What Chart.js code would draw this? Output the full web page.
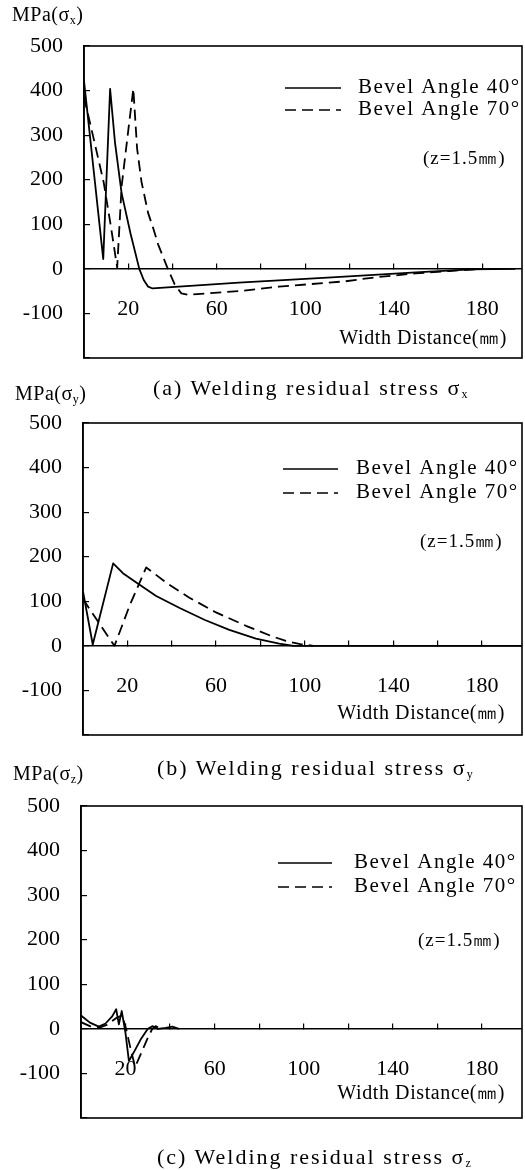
<!DOCTYPE html>
<html><head><meta charset="utf-8">
<script src="https://cdn.jsdelivr.net/npm/chart.js@4.4.1/dist/chart.umd.min.js"></script>
<style>
body{margin:0;width:525px;height:1170px;background:#fff;position:relative;overflow:hidden;font-family:"Liberation Serif","DejaVu Serif",serif;color:#000}
.cv{position:absolute;left:0;width:525px;height:380px}
.t{position:absolute;white-space:nowrap;line-height:1}
.cap{font-size:22px;letter-spacing:2px}
.unit{font-size:20px;letter-spacing:0.5px}
.z{font-size:19px;letter-spacing:1px}
.wd{font-size:20px;letter-spacing:0.6px}
sub{font-size:12px;vertical-align:-3px}
</style></head><body>
<div class="cv" style="top:0"><canvas id="ca" width="525" height="380"></canvas></div>
<div class="cv" style="top:377px"><canvas id="cb" width="525" height="380"></canvas></div>
<div class="cv" style="top:760px"><canvas id="cc" width="525" height="380"></canvas></div>

<div class="t unit" style="left:12px;top:4px">MPa(σ<sub>x</sub>)</div>
<div class="t z" style="left:423px;top:148px">(z=1.5㎜)</div>
<div class="t wd" style="right:18px;top:327px">Width Distance(㎜)</div>
<div class="t cap" style="left:153px;top:377px">(a) Welding residual stress σ<sub>x</sub></div>

<div class="t unit" style="left:15px;top:383px">MPa(σ<sub>y</sub>)</div>
<div class="t z" style="left:420px;top:531px">(z=1.5㎜)</div>
<div class="t wd" style="right:20px;top:702px">Width Distance(㎜)</div>
<div class="t cap" style="left:157px;top:757px">(b) Welding residual stress σ<sub>y</sub></div>

<div class="t unit" style="left:13px;top:763px">MPa(σ<sub>z</sub>)</div>
<div class="t z" style="left:418px;top:930px">(z=1.5㎜)</div>
<div class="t wd" style="right:20px;top:1082px">Width Distance(㎜)</div>
<div class="t cap" style="left:157px;top:1146px">(c) Welding residual stress σ<sub>z</sub></div>

<script>
// ---- tick labels & series names ----
const xTickLabels = [20, 60, 100, 140, 180];
const yTickLabels = [-100, 0, 100, 200, 300, 400, 500];
const seriesNames = ['Bevel Angle 40°', 'Bevel Angle 70°'];

// ---- (a) sigma x ----
const sxX40 = [0, 8.7, 11.8, 14, 17, 21, 25, 27, 29, 31, 70, 112, 150, 175, 195];
const sxY40 = [422, 22, 404, 284, 170, 80, 0, -25, -40, -44, -31, -19, -8, -1, 0];
const sxX70 = [0, 4, 8.9, 12, 15, 17, 20, 22.3, 24, 26, 29, 31.5, 33.5, 37.5, 41, 44, 47, 70, 88, 118, 130, 150, 165, 180];
const sxY70 = [385, 300, 194, 100, 3, 185, 310, 404, 270, 195, 125, 88, 55, 5, -35, -55, -58, -50, -40, -28, -20, -10, -5, 0];

// ---- (b) sigma y ----
const syX40 = [0, 4.4, 13.6, 18, 24.7, 33, 43.6, 55, 66, 78, 88.5, 95, 198];
const syY40 = [122, 3, 185, 163, 140, 112, 85, 58, 36, 16, 5, 0, 0];
const syX70 = [0, 6, 14.2, 21, 28.5, 38, 48, 60, 73.5, 85, 91.5, 98, 104];
const syY70 = [105, 60, 0, 90, 176, 140, 108, 75, 45, 22, 11, 4, 0];

// ---- (c) sigma z ----
const szX40 = [0, 4, 8, 11, 14, 15.8, 17, 18.3, 20, 21.5, 24, 27, 30, 32, 34.5, 38, 41, 44];
const szY40 = [30, 14, 5, 12, 28, 44, 10, 40, -10, -72, -50, -22, 0, 6, 0, 2, 5, 0];
const szX70 = [0, 4, 8, 12, 16, 18.5, 20.5, 22.5, 24.3, 27, 30, 32, 33.5, 36];
const szY70 = [15, 6, 2, 10, 25, 30, -5, -50, -85, -55, -20, 0, 6, 0];

const zip = (xs, ys) => xs.map((x, i) => ({x: x, y: ys[i]}));
const FONT = 'Liberation Serif';

const framePlugin = {
  id: 'frame',
  afterDraw(chart) {
    const {ctx, chartArea: a} = chart;
    ctx.save();
    ctx.strokeStyle = '#000';
    ctx.lineWidth = 1.6;
    ctx.strokeRect(a.left, a.top, a.right - a.left, a.bottom - a.top);
    ctx.restore();
  }
};

const insideLegend = {
  id: 'insideLegend',
  afterDraw(chart, args, o) {
    const ctx = chart.ctx;
    chart.data.datasets.forEach((ds, i) => {
      const y = o.rows[i];
      ctx.save();
      ctx.strokeStyle = ds.borderColor;
      ctx.lineWidth = 1.6;
      ctx.setLineDash(ds.borderDash || []);
      ctx.beginPath();
      ctx.moveTo(o.x1, y + 1);
      ctx.lineTo(o.x2, y + 1);
      ctx.stroke();
      ctx.setLineDash([]);
      ctx.font = '21px "' + FONT + '"';
      try { ctx.letterSpacing = '1.5px'; } catch (e) {}
      ctx.fillStyle = '#000';
      ctx.textBaseline = 'middle';
      ctx.fillText(ds.label, o.tx, y);
      ctx.restore();
    });
  }
};

function makeChart(id, x40, y40, x70, y70, leftW, legendOpts) {
  return new Chart(document.getElementById(id), {
    type: 'line',
    data: {
      datasets: [
        {label: seriesNames[0], data: zip(x40, y40), borderColor: '#000', borderWidth: 1.8,
         pointRadius: 0, tension: 0, borderJoinStyle: 'round', fill: false},
        {label: seriesNames[1], data: zip(x70, y70), borderColor: '#000', borderWidth: 1.8,
         borderDash: [11, 6], pointRadius: 0, tension: 0, borderJoinStyle: 'round', fill: false}
      ]
    },
    options: {
      responsive: false,
      maintainAspectRatio: false,
      animation: false,
      layout: {padding: {top: 46, right: 3, bottom: 22, left: 0}},
      plugins: {
        legend: {display: false},
        tooltip: {enabled: false},
        insideLegend: legendOpts
      },
      scales: {
        x: {
          type: 'linear', min: 0, max: 198, position: {y: 0},
          border: {display: true, color: '#000', width: 1.6},
          grid: {drawOnChartArea: false, drawTicks: true, tickLength: -6, color: '#000', lineWidth: 1.2},
          ticks: {
            stepSize: 20, autoSkip: false, maxRotation: 0, minRotation: 0, includeBounds: false,
            padding: 0, color: '#000',
            font: {family: FONT, size: 22, lineHeight: '92px'},
            callback: v => xTickLabels.includes(v) ? String(v) : ''
          }
        },
        y: {
          type: 'linear', min: -200, max: 500, position: 'left',
          border: {display: true, color: '#000', width: 1.6},
          grid: {drawOnChartArea: false, drawTicks: true, tickLength: -6, color: '#000', lineWidth: 1.2},
          ticks: {
            stepSize: 100, padding: 27, color: '#000',
            font: {family: FONT, size: 22},
            callback: v => yTickLabels.includes(v) ? String(v) : ''
          },
          afterFit: s => { s.width = leftW; s.paddingTop = 0; s.paddingBottom = 0; }
        }
      }
    },
    plugins: [framePlugin, insideLegend]
  });
}

makeChart('ca', sxX40, sxY40, sxX70, sxY70, 84, {x1: 285, x2: 341, tx: 358, rows: [87, 109]});
makeChart('cb', syX40, syY40, syX70, syY70, 83, {x1: 283, x2: 338, tx: 356, rows: [91, 115]});
makeChart('cc', szX40, szY40, szX70, szY70, 81, {x1: 278, x2: 332, tx: 354, rows: [102, 126]});
</script>
</body></html>
